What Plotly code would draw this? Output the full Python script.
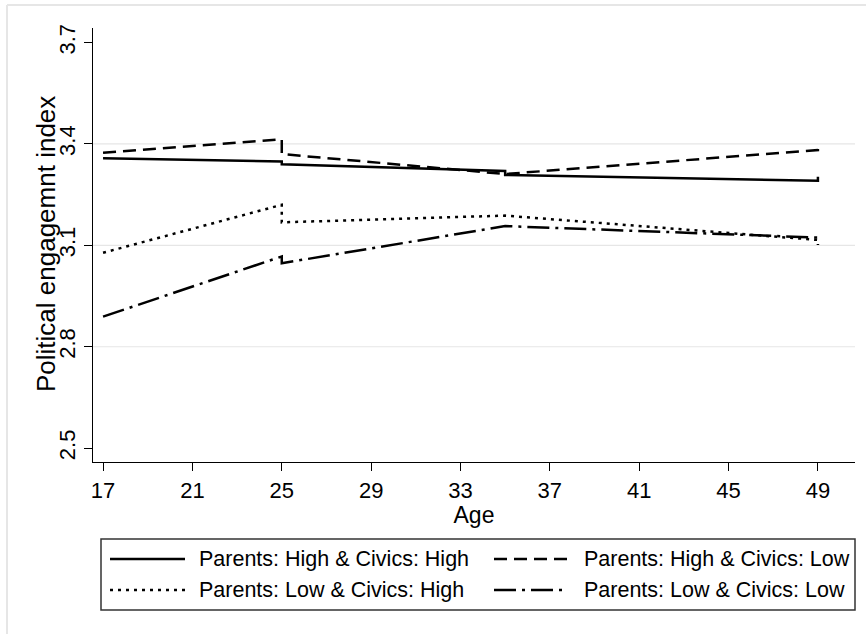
import plotly.graph_objects as go

# Predicted political engagement by age for four parent/civics groups.
# Age 25 and 35 appear twice so the fitted segments can break there.
ages = [17, 25, 25, 35, 35, 49, 49]

series_names = [
    "Parents: High & Civics: High",
    "Parents: High & Civics: Low",
    "Parents: Low & Civics: High",
    "Parents: Low & Civics: Low",
]
high_high = [3.358, 3.348, 3.340, 3.320, 3.308, 3.291, 3.303]
high_low = [3.374, 3.414, 3.370, 3.311, 3.311, 3.382, 3.397]
low_high = [3.078, 3.220, 3.168, 3.188, 3.188, 3.116, 3.101]
low_low = [2.889, 3.067, 3.047, 3.157, 3.157, 3.123, 3.120]

x_ticks = [17, 21, 25, 29, 33, 37, 41, 45, 49]
y_ticks = [2.5, 2.8, 3.1, 3.4, 3.7]
grid_levels = [2.8, 3.1, 3.4]

line_styles = ["solid", "13px,7px", "3px,5px", "22px,6px,3px,6px"]
series_values = [high_high, high_low, low_high, low_low]

FONT = "Liberation Sans, Arial, sans-serif"
W, H = 866, 634
ML, MR, MT, MB = 93, 11, 28, 172
PW, PH = W - ML - MR, H - MT - MB


def px(xp):
    return (xp - ML) / PW


def py(yp):
    return (H - MB - yp) / PH


fig = go.Figure()
for name, vals, dash in zip(series_names, series_values, line_styles):
    fig.add_trace(go.Scatter(
        x=ages, y=vals, mode="lines", name=name, showlegend=False,
        line=dict(color="black", width=2.5, dash=dash),
    ))

shapes = []
for g in grid_levels:
    shapes.append(dict(type="line", xref="paper", yref="y", x0=0, x1=1, y0=g, y1=g,
                       line=dict(color="#e6e6e6", width=1.2), layer="below"))

# Outer frame of the graph region
shapes.append(dict(type="line", xref="paper", yref="paper", x0=px(7), x1=px(W + 5),
                   y0=py(5), y1=py(5), line=dict(color="#e6e6e6", width=2)))
shapes.append(dict(type="line", xref="paper", yref="paper", x0=px(7), x1=px(7),
                   y0=py(5), y1=py(H + 5), line=dict(color="#e6e6e6", width=2)))

# Legend box below the plot
shapes.append(dict(type="rect", xref="paper", yref="paper", x0=px(101), x1=px(855),
                   y0=py(539), y1=py(610), line=dict(color="#333333", width=1.5)))

legend_slots = [(110, 185, 197, 559), (494, 568, 582, 559),
                (110, 185, 197, 590), (494, 568, 582, 590)]
annotations = []
for i, (x0, x1, xt, yr) in enumerate(legend_slots):
    shapes.append(dict(type="line", xref="paper", yref="paper", x0=px(x0), x1=px(x1),
                       y0=py(yr), y1=py(yr),
                       line=dict(color="black", width=2.5, dash=line_styles[i])))
    annotations.append(dict(xref="paper", yref="paper", x=px(xt), y=py(yr),
                            text=series_names[i], showarrow=False, xanchor="left",
                            yanchor="middle", font=dict(family=FONT, size=21.5, color="black")))

# Vertical axis title
annotations.append(dict(xref="paper", yref="paper", x=px(46), y=py(244),
                        text="Political engagemnt index", showarrow=False, textangle=-90,
                        xanchor="center", yanchor="middle",
                        font=dict(family=FONT, size=26, color="black")))

fig.update_layout(
    width=W, height=H,
    margin=dict(l=ML, r=MR, t=MT, b=MB),
    paper_bgcolor="white", plot_bgcolor="white",
    font=dict(family=FONT, color="black"),
    shapes=shapes, annotations=annotations,
    xaxis=dict(
        range=[16.55, 50.66], tickvals=x_ticks, ticktext=[str(v) for v in x_ticks],
        showgrid=False, zeroline=False, showline=True, linecolor="black", linewidth=1.2,
        ticks="outside", ticklen=8, tickcolor="black", tickwidth=1.2,
        tickfont=dict(size=22),
        title=dict(text="Age", font=dict(size=23), standoff=0),
    ),
    yaxis=dict(
        range=[2.459, 3.743], tickvals=y_ticks, ticktext=[f"{v:.1f}" for v in y_ticks],
        showgrid=False, zeroline=False, showline=True, linecolor="black", linewidth=1.2,
        ticks="outside", ticklen=8, tickcolor="black", tickwidth=1.2,
        tickangle=-90, tickfont=dict(size=22),
    ),
)

fig.write_html("out.html")
